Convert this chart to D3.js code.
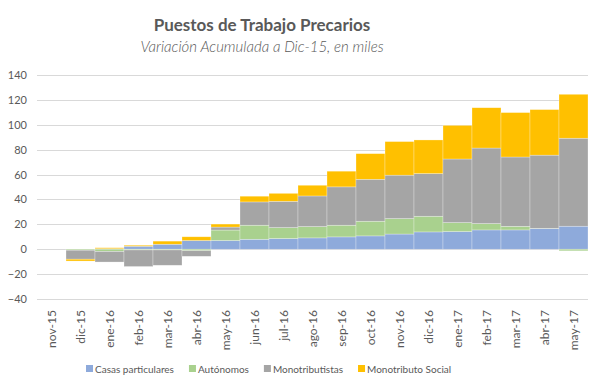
<!DOCTYPE html>
<html>
<head>
<meta charset="utf-8">
<script src="https://cdn.jsdelivr.net/npm/d3@7"></script>
<style>
  body { margin: 0; background: #fff; }
  text { font-family: Lato, "Open Sans", sans-serif; fill: #595959; }
</style>
</head>
<body>
<script>
// categories (months)
var months = ["nov-15","dic-15","ene-16","feb-16","mar-16","abr-16","may-16","jun-16","jul-16",
  "ago-16","sep-16","oct-16","nov-16","dic-16","ene-17","feb-17","mar-17","abr-17","may-17"];

// series values, thousands
var casas     = [0, 0, 0.4, 2.4, 4.0, 7.0, 7.0, 8.0, 8.6, 9.1, 9.9, 10.7, 12.2, 13.9, 14.2, 15.5, 15.5, 16.6, 18.5];
var autonomos = [0, -0.8, -1.8, -0.6, -0.6, -1.2, 8.4, 11.3, 8.8, 9.1, 9.4, 11.8, 12.4, 12.6, 7.2, 5.1, 2.9, 0.2, -1.3];
var monotrib  = [0, -7.2, -8.5, -13.3, -12.3, -4.5, 2.4, 18.7, 21.1, 24.6, 30.8, 33.7, 34.9, 34.3, 51.1, 60.7, 55.7, 58.8, 70.7];
var monoSocial= [0, -1.5, 0.8, 0.8, 2.5, 3.0, 2.4, 4.6, 6.4, 8.6, 12.6, 20.6, 27.0, 27.0, 27.0, 32.4, 35.7, 36.6, 35.3];

var seriesNames = ["Casas particulares", "Autónomos", "Monotributistas", "Monotributo Social"];
var colors = ["#8eaadb", "#a9d18e", "#a5a5a5", "#ffc000"];
var yTicks = [-40, -20, 0, 20, 40, 60, 80, 100, 120, 140];

var width = 602, height = 389;
var margin = {top: 75, right: 14, bottom: 90, left: 37};

var svg = d3.select("body").append("svg")
    .attr("width", width)
    .attr("height", height);

var x = d3.scaleBand()
    .domain(months)
    .range([margin.left, width - margin.right])
    .padding(0);
var y = d3.scaleLinear()
    .domain([-40, 140])
    .range([299, 75]);

// title
svg.append("text")
    .attr("x", 262).attr("y", 31)
    .attr("text-anchor", "middle")
    .style("font-size", "17px").style("font-weight", "bold")
    .text("Puestos de Trabajo Precarios");
svg.append("text")
    .attr("x", 262).attr("y", 52)
    .attr("text-anchor", "middle")
    .style("font-size", "15px").style("font-style", "italic").style("font-weight", 300)
    .text("Variación Acumulada a Dic-15, en miles");

// gridlines
svg.append("g")
  .selectAll("line")
  .data(yTicks)
  .enter().append("line")
    .attr("x1", x.range()[0]).attr("x2", x.range()[1])
    .attr("y1", d => Math.round(y(d)) + 0.5).attr("y2", d => Math.round(y(d)) + 0.5)
    .attr("stroke", "#d9d9d9");

// y axis labels
var yAxis = d3.axisLeft(y).tickValues(yTicks).tickSize(0).tickPadding(0);
svg.append("g")
    .attr("transform", "translate(27,0)")
    .call(yAxis)
    .call(g => g.select(".domain").remove())
    .selectAll("text")
      .style("font-size", "11px")
      .style("font-family", "Lato, sans-serif")
      .attr("fill", "#595959");

// stacked data with negative values going down (like Excel)
var all = [casas, autonomos, monotrib, monoSocial];
var rects = [];
months.forEach(function(m, i) {
  var pos = 0, neg = 0;
  all.forEach(function(s, k) {
    var v = s[i];
    if (v >= 0) { rects.push({m: m, k: k, y0: pos, y1: pos + v}); pos += v; }
    else { rects.push({m: m, k: k, y0: neg + v, y1: neg}); neg += v; }
  });
});

svg.append("g")
  .selectAll("rect")
  .data(rects.filter(d => d.y1 !== d.y0))
  .enter().append("rect")
    .attr("x", d => x(d.m))
    .attr("width", x.bandwidth())
    .attr("y", d => y(d.y1))
    .attr("height", d => y(d.y0) - y(d.y1))
    .attr("fill", d => colors[d.k])
    .attr("stroke", "rgba(255,255,255,0.45)")
    .attr("stroke-width", 0.6);

// x labels, rotated
svg.append("g")
  .selectAll("text")
  .data(months)
  .enter().append("text")
    .attr("transform", d => "translate(" + (x(d) + x.bandwidth() / 2) + ",310) rotate(-90)")
    .attr("text-anchor", "end")
    .attr("dy", "0.35em")
    .style("font-size", "12px")
    .text(d => d);

// legend
var legend = svg.append("g").attr("transform", "translate(0,369)");
var lx = 86;
seriesNames.forEach(function(name, k) {
  legend.append("rect")
      .attr("x", lx).attr("y", -4)
      .attr("width", 7).attr("height", 7)
      .attr("fill", colors[k]);
  var t = legend.append("text")
      .attr("x", lx + 9).attr("y", 0)
      .attr("dy", "0.35em")
      .style("font-size", "10px")
      .text(name);
  lx += 9 + t.node().getComputedTextLength() + 15;
});
</script>
</body>
</html>
